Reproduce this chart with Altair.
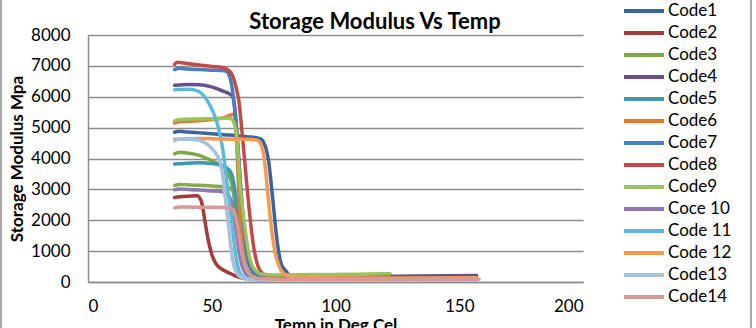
import altair as alt
import pandas as pd

# Dynamic mechanical analysis: storage modulus (MPa) against temperature (deg C)
names = ["Code1", "Code2", "Code3", "Code4", "Code5", "Code6", "Code7",
         "Code8", "Code9", "Coce 10", "Code 11", "Code 12", "Code13", "Code14"]
colors = ["#3A64A1", "#A23C3A", "#7FA845", "#6A4F90", "#3C97B0", "#E07B33", "#4A7EBD",
          "#C24B48", "#9BC35A", "#8D77B5", "#5BBAD5", "#F59A50", "#A9BFDE", "#D99795"]
chart_title = ["Storage Modulus Vs Temp"]

t_code1 = [35, 37, 40, 45, 50, 55, 60, 65, 68, 70, 71, 72, 73, 74, 75, 76, 77, 78, 80, 82, 90, 110, 130, 157]
e_code1 = [4850, 4880, 4860, 4830, 4800, 4770, 4740, 4700, 4670, 4620, 4520, 4300, 3900, 3200, 2400, 1600, 1000, 600, 350, 200, 150, 170, 190, 210]

t_code2 = [35, 37, 40, 44, 45, 46, 47, 48, 49, 50, 51, 52, 54, 56, 58, 60, 63, 70, 157]
e_code2 = [2740, 2760, 2780, 2790, 2740, 2550, 2100, 1600, 1200, 900, 700, 560, 420, 330, 260, 180, 120, 80, 70]

t_code3 = [35, 37, 40, 45, 48, 50, 52, 54, 56, 57, 58, 59, 60, 61, 62, 63, 64, 66, 70, 90, 122]
e_code3 = [4150, 4200, 4180, 4100, 4000, 3930, 3850, 3750, 3600, 3450, 3200, 2750, 2100, 1450, 900, 550, 350, 220, 200, 220, 240]

t_code4 = [35, 37, 40, 45, 50, 53, 55, 57, 58.5, 59.5, 60.5, 61.5, 62.5, 63.5, 65, 67, 70, 80, 100, 157]
e_code4 = [6370, 6380, 6400, 6390, 6320, 6230, 6170, 6100, 6000, 5500, 4500, 3300, 2200, 1300, 600, 300, 180, 140, 150, 200]

t_code5 = [35, 40, 45, 50, 53, 56, 58, 59, 60, 61, 62, 63, 65, 68, 80, 157]
e_code5 = [3820, 3850, 3860, 3840, 3800, 3700, 3500, 3150, 2500, 1700, 1000, 550, 220, 120, 90, 90]

t_code6 = [35, 37, 40, 45, 50, 55, 58, 59, 59.5, 60, 60.5, 61, 61.5, 62, 63, 64, 66, 70, 80, 157]
e_code6 = [5150, 5190, 5200, 5220, 5260, 5320, 5420, 5450, 5300, 4600, 3700, 2800, 2000, 1400, 700, 400, 200, 130, 100, 100]

t_code7 = [35, 37, 40, 45, 50, 54, 56, 57, 58, 59, 60, 61, 62, 63, 64, 65, 67, 70, 75, 157]
e_code7 = [6880, 6920, 6900, 6880, 6860, 6850, 6820, 6700, 6400, 5800, 4900, 3800, 2700, 1800, 1100, 650, 300, 150, 100, 90]

t_code8 = [35, 36, 40, 45, 50, 54, 56, 58, 59, 60, 61, 62, 63, 64, 65, 66, 67, 68, 70, 73, 80, 100, 157]
e_code8 = [7050, 7120, 7080, 7030, 6980, 6950, 6900, 6750, 6550, 6250, 5850, 5050, 4200, 3300, 2450, 1700, 1100, 700, 320, 180, 120, 100, 110]

t_code9 = [35, 37, 40, 45, 50, 55, 57.5, 59, 60, 60.5, 61, 61.5, 62, 63, 64, 65, 66, 68, 70, 75, 90, 110, 122]
e_code9 = [5220, 5260, 5270, 5280, 5290, 5300, 5300, 5150, 4800, 4300, 3600, 3100, 2700, 2000, 1400, 900, 600, 350, 260, 230, 240, 250, 270]

t_code10 = [35, 37, 40, 45, 50, 54, 56, 57, 58, 59, 60, 61, 62, 64, 67, 75, 157]
e_code10 = [2990, 3010, 3000, 2980, 2950, 2920, 2870, 2780, 2600, 2200, 1600, 1000, 600, 250, 130, 90, 90]

t_code11 = [35, 40, 44, 46, 48, 50, 52, 54, 55, 56, 57, 58, 59, 60, 61, 62, 64, 68, 80, 157]
e_code11 = [6230, 6240, 6200, 6100, 5900, 5600, 5200, 4500, 4000, 3300, 2700, 2000, 1300, 700, 380, 220, 120, 80, 60, 60]

t_code12 = [35, 40, 45, 50, 55, 60, 65, 68, 69.5, 70.5, 71.5, 72.5, 73.5, 74.5, 75.5, 77, 79, 82, 90, 110, 130, 157]
e_code12 = [4620, 4640, 4650, 4640, 4630, 4620, 4620, 4600, 4520, 4300, 3800, 3000, 2200, 1500, 1000, 550, 280, 170, 140, 130, 130, 140]

t_code13 = [35, 37, 40, 44, 46, 48, 50, 52, 53.5, 54.5, 55.5, 56.5, 57.5, 58.5, 60, 62, 66, 80, 157]
e_code13 = [4580, 4620, 4620, 4610, 4560, 4470, 4330, 4120, 3850, 3400, 2700, 2000, 1300, 700, 300, 150, 80, 60, 60]

t_code14 = [35, 37, 40, 45, 50, 55, 57, 58, 59, 60, 61, 62, 63, 64, 66, 70, 80, 100, 158]
e_code14 = [2400, 2430, 2430, 2420, 2420, 2410, 2400, 2380, 2300, 2000, 1500, 1000, 650, 400, 200, 110, 90, 90, 100]

# one further green trace that carries no legend entry
t_green_run = [35, 37, 40, 45, 50, 55, 57, 58, 59, 60, 61, 62, 63, 64, 66, 70, 90, 122]
e_green_run = [3130, 3160, 3150, 3130, 3110, 3080, 3050, 3000, 2900, 2600, 2000, 1300, 800, 450, 250, 200, 220, 250]

temps = [t_code1, t_code2, t_code3, t_code4, t_code5, t_code6, t_code7,
         t_code8, t_code9, t_code10, t_code11, t_code12, t_code13, t_code14]
moduli = [e_code1, e_code2, e_code3, e_code4, e_code5, e_code6, e_code7,
          e_code8, e_code9, e_code10, e_code11, e_code12, e_code13, e_code14]

rows = []
for name, ts, es in zip(names, temps, moduli):
    for i, (t, e) in enumerate(zip(ts, es)):
        rows.append({"series": name, "temp": t, "modulus": e, "idx": i})
df = pd.DataFrame(rows)

df_green = pd.DataFrame({"temp": t_green_run, "modulus": e_green_run,
                         "idx": list(range(len(t_green_run)))})

FONT = "Lato"
GRID = "#8C8C8C"

x_enc = alt.X("temp:Q", scale=alt.Scale(domain=[0, 200], nice=False),
              axis=alt.Axis(values=[0, 50, 100, 150, 200], title="Temp in Deg Cel",
                            format="d", grid=False, ticks=False, labelPadding=16,
                            titlePadding=3, domainColor=GRID, domainWidth=1.5))
y_enc = alt.Y("modulus:Q", scale=alt.Scale(domain=[0, 8000], nice=False),
              axis=alt.Axis(values=list(range(0, 8001, 1000)), title="Storage Modulus Mpa",
                            format="d", grid=True, gridColor=GRID, gridWidth=1.5, ticks=False,
                            labelPadding=18, titlePadding=4,
                            domainColor=GRID, domainWidth=1.5))

green_line = alt.Chart(df_green).mark_line(
    strokeWidth=3.5, interpolate="monotone", strokeCap="round", strokeJoin="round",
    color="#86AB4C"
).encode(x=x_enc, y=y_enc, order="idx:Q")

lines = alt.Chart(df).mark_line(
    strokeWidth=3.5, interpolate="monotone", strokeCap="round", strokeJoin="round"
).encode(
    x=x_enc,
    y=y_enc,
    color=alt.Color("series:N", sort=names,
                    scale=alt.Scale(domain=names, range=colors),
                    legend=alt.Legend(title=None, orient="none", legendX=534, legendY=-35,
                                      symbolType="stroke", symbolSize=1600,
                                      symbolStrokeWidth=4, labelFontSize=17,
                                      labelFont=FONT, labelColor="#000000",
                                      clipHeight=22, rowPadding=0, labelOffset=2)),
    order="idx:Q",
    detail="series:N",
)

# chart heading, centred over the plot and legend area
heading = alt.Chart(pd.DataFrame({"label": chart_title})).mark_text(
    font=FONT, fontSize=22, fontWeight="bold", color="#000000",
    align="center", baseline="alphabetic"
).encode(text="label:N", x=alt.value(287), y=alt.value(-6))

# outer chart frame
frame = alt.Chart(pd.DataFrame({"k": [0]})).mark_rect(
    fill=None, stroke=GRID, strokeWidth=1.5
).encode(
    x=alt.value(-87), x2=alt.value(663), y=alt.value(-40), y2=alt.value(300)
)

chart = alt.layer(green_line, lines, heading, frame).properties(
    width=495, height=247,
    padding={"left": 88, "top": 35, "right": 173, "bottom": 46},
    autosize=alt.AutoSizeParams(type="none"),
    background="#FFFFFF",
).configure_view(stroke=None).configure_axis(
    labelFont=FONT, labelFontSize=17, labelColor="#000000",
    titleFont=FONT, titleFontSize=17, titleFontWeight="bold", titleColor="#000000",
)

chart.save("out.html", embed_options={"renderer": "svg", "actions": False})
